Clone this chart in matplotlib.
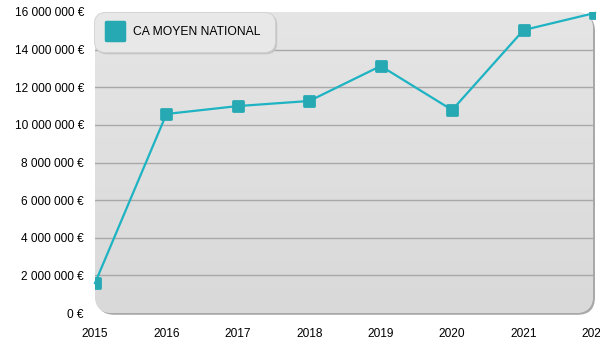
import numpy as np
import matplotlib
matplotlib.use("Agg")
import matplotlib.pyplot as plt
from matplotlib.patches import FancyBboxPatch
from matplotlib.lines import Line2D
from matplotlib.markers import MarkerStyle
from matplotlib.ticker import FuncFormatter

plt.rcParams['font.family'] = ['Liberation Sans', 'DejaVu Sans']

years = [2015, 2016, 2017, 2018, 2019, 2020, 2021, 2022]
ca_moyen = [1590000, 10580000, 11000000, 11270000, 13130000, 10790000, 15040000, 15950000]
series_label = "CA MOYEN NATIONAL"
y_ticks = [0, 2000000, 4000000, 6000000, 8000000, 10000000, 12000000, 14000000, 16000000]

line_color = "#1db3c2"
marker_color = "#27a9b4"

W, H = 600, 350
fig = plt.figure(figsize=(W / 100, H / 100), dpi=100)
ax = fig.add_axes([95 / W, 37 / H, 500 / W, 301 / H])
ax.set_xlim(years[0], years[-1])
ax.set_ylim(0, y_ticks[-1])
ax.patch.set_visible(False)
for s in ax.spines.values():
    s.set_visible(False)

# rounded plot panel: shadow, then gradient fill clipped to the panel shape
shadow = FancyBboxPatch((0.004, -0.006), 0.996, 1.0, boxstyle="round,pad=0,rounding_size=0.035",
                        transform=ax.transAxes, facecolor="#a9a9a9", edgecolor="none",
                        zorder=0, mutation_aspect=500 / 301, clip_on=False)
ax.add_patch(shadow)
panel = FancyBboxPatch((0, 0), 0.996, 1.0, boxstyle="round,pad=0,rounding_size=0.035",
                       transform=ax.transAxes, facecolor="#e0e0e0", edgecolor="none",
                       zorder=0.1, mutation_aspect=500 / 301, clip_on=False)
ax.add_patch(panel)
grad = np.linspace(0, 1, 256).reshape(-1, 1)
img = ax.imshow(grad, cmap=matplotlib.colors.LinearSegmentedColormap.from_list(
    "bg", ["#d9d9d9", "#e5e5e5"]), extent=[0, 0.996, 0, 1], origin="lower",
    transform=ax.transAxes, aspect="auto", zorder=0.2, interpolation="bilinear")
img.set_clip_path(panel)

# horizontal grid
for v in y_ticks[1:-1]:
    ax.axhline(v, color="#a8a8a8", lw=1.0, zorder=0.5, xmax=0.996)

ms = MarkerStyle("s", joinstyle="round")
ax.plot(years, ca_moyen, color=line_color, lw=1.6, zorder=3, clip_on=False)
ax.plot(years, ca_moyen, linestyle="none", marker=ms, markersize=7.8,
        markerfacecolor=marker_color, markeredgecolor=marker_color, markeredgewidth=2.0,
        zorder=4, clip_on=True)

ax.set_xticks(years)
ax.set_xticklabels([str(y) for y in years])
ax.set_yticks(y_ticks)
ax.yaxis.set_major_formatter(FuncFormatter(lambda v, p: f"{int(v):,} €".replace(",", " ")))
ax.tick_params(axis="both", length=0, labelsize=8.6, colors="black")
ax.tick_params(axis="y", pad=8)
ax.tick_params(axis="x", pad=11)

handle = Line2D([], [], linestyle="none", marker=MarkerStyle("s", joinstyle="round"),
                markersize=12.5, markerfacecolor=marker_color, markeredgecolor=marker_color,
                markeredgewidth=2.5)
leg = ax.legend([handle], [series_label], loc="upper left", bbox_to_anchor=(-0.002, 1.0),
                borderaxespad=0, frameon=True, fancybox=True, fontsize=8.7,
                handlelength=1.2, handletextpad=0.9, borderpad=1.15,
                shadow={"color": "#c4c4c4", "alpha": 1.0, "ox": 1.5, "oy": -1.5}, framealpha=1)
frame = leg.get_frame()
frame.set_facecolor("#e8e8e8")
frame.set_edgecolor("#d0d0d0")
frame.set_linewidth(0.6)
frame.set_boxstyle("round,pad=0,rounding_size=0.9")
leg.set_zorder(5)

fig.savefig("out.png", dpi=100)
